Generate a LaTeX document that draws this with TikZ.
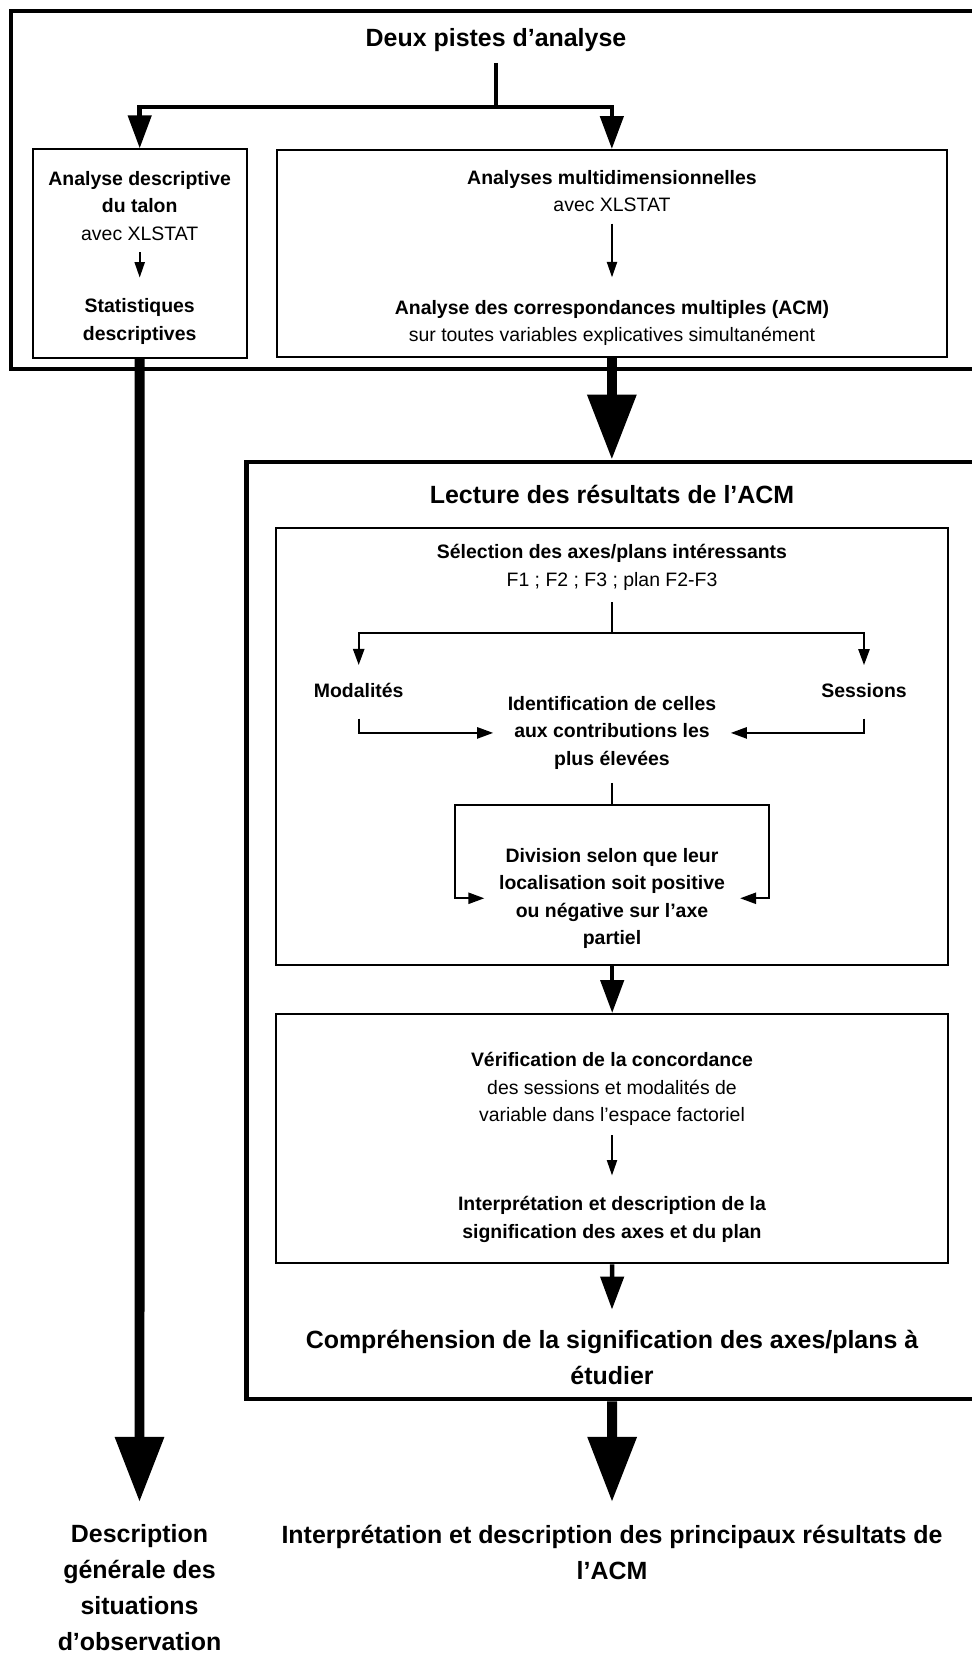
\documentclass[tikz,border=0pt]{standalone}
\usepackage{fontspec}
\setmainfont{Liberation Sans}
\usetikzlibrary{arrows.meta,fit}
\begin{document}
\begin{tikzpicture}[x=0.47325pt,y=-0.47325pt,
  frame/.style={draw, line width=2.2pt, inner sep=0pt, rectangle},
  ibox/.style={draw, line width=0.95pt, inner sep=0pt, rectangle},
  body/.style={font=\fontsize{9.2}{13}\selectfont, align=center, inner sep=0pt, anchor=base},
  bodyb/.style={font=\bfseries\fontsize{9.2}{13}\selectfont, align=center, inner sep=0pt, anchor=base},
  bigt/.style={font=\bfseries\fontsize{11.8}{16.9}\selectfont, align=center, inner sep=0pt, anchor=base},
  thickarr/.style={line width=4.7pt, -{Triangle[length=30.8pt,width=22.2pt]}},
  medarr/.style={line width=2.1pt, -{Triangle[length=15.6pt,width=10.9pt]}},
  medline/.style={line width=2.1pt},
  thinarr/.style={line width=0.8pt, -{Triangle[length=7.3pt,width=4.8pt]}},
  linline/.style={line width=0.95pt},
  linarr/.style={line width=0.95pt, -{Triangle[length=7.6pt,width=5.3pt]}}
]
\useasboundingbox (0,0) rectangle (972,1657);

% containers
\node[frame, fit={(11,11) (1000,369)}] (frame1) {};
\node[frame, fit={(246.6,462) (1000,1399)}] (frame2) {};
\node[ibox, fit={(32.7,149.3) (246.7,358)}] (lbox) {};
\node[ibox, fit={(277,150) (946.7,357)}] (rbox) {};
\node[ibox, fit={(276,528) (948.4,964.5)}] (ibox1) {};
\node[ibox, fit={(276,1014) (948.4,1263.3)}] (ibox2) {};

% texts (anchor = baseline of the last line)
\node[bigt] (title) at (496,46.7) {Deux pistes d’analyse};
\node[bodyb] (lA) at (139.7,240) {Analyse descriptive\\du talon\\{\mdseries avec XLSTAT}};
\node[bodyb] (lB) at (139.7,340) {Statistiques\\descriptives};
\node[bodyb] (rA) at (612,211.7) {Analyses multidimensionnelles\\{\mdseries avec XLSTAT}};
\node[bodyb] (rB) at (612,341.7) {Analyse des correspondances multiples (ACM)\\{\mdseries sur toutes variables explicatives simultanément}};
\node[bigt] (lect) at (612,503.7) {Lecture des résultats de l’ACM};
\node[bodyb] (sel) at (612,586.4) {Sélection des axes/plans intéressants\\{\mdseries F1 ; F2 ; F3 ; plan F2-F3}};
\node[bodyb] (mod) at (358.7,697.6) {Modalités};
\node[bodyb] (sess) at (864,697.6) {Sessions};
\node[bodyb] (ident) at (612,765.4) {Identification de celles\\aux contributions les\\plus élevées};
\node[bodyb] (div) at (612,944.5) {Division selon que leur\\localisation soit positive\\ou négative sur l’axe\\partiel};
\node[bodyb] (verif) at (612,1121.7) {Vérification de la concordance\\{\mdseries des sessions et modalités de}\\{\mdseries variable dans l’espace factoriel}};
\node[bodyb] (interp) at (612,1238.3) {Interprétation et description de la\\signification des axes et du plan};
\node[bigt] (compr) at (612,1384) {Compréhension de la signification des axes/plans à\\étudier};
\node[bigt, font=\bfseries\fontsize{11.8}{16.9}\selectfont] (desc) at (139.5,1650) {Description\\générale des\\situations\\d’observation};
\node[bigt, font=\bfseries\fontsize{11.8}{17}\selectfont] (acm) at (612,1579) {Interprétation et description des principaux résultats de\\l’ACM};

% connectors
\coordinate (split) at (496,107);
\draw[medline] ([yshift=-5pt]title.south) -- (split);
\draw[medarr] (split) -| (lbox.north);
\draw[medarr] (split) -| (rbox.north);
\draw[thinarr] ([yshift=-5.5pt]lA.south) -- ([yshift=9.7pt]lB.north);
\draw[thinarr] ([yshift=-5.3pt]rA.south) -- ([yshift=10.6pt]rB.north);
\draw[thickarr] (lbox.south) -- ([yshift=10.6pt]desc.north);
\draw[thickarr] (rbox.south) -- (rbox.south |- frame2.north);

\draw[linline] ([yshift=-5.4pt]sel.south) -- ++(0,31) coordinate (split2);
\draw[linarr] (split2) -| ([yshift=8.5pt]mod.north);
\draw[linarr] (split2) -| ([yshift=8.5pt]sess.north);
\draw[linarr] ([yshift=-9.7pt]mod.south) |- ([xshift=-6.7pt]ident.west);
\draw[linarr] ([yshift=-9.7pt]sess.south) |- ([xshift=6.7pt]ident.east);
\draw[linline] ([yshift=-6.2pt]ident.south) -- ++(0,22.4) coordinate (split3);
\draw[linarr] (split3) -- ++(-156.7,0) |- ([xshift=-6.8pt]div.west);
\draw[linarr] (split3) -- ++(156.6,0) |- ([xshift=7pt]div.east);

\draw[medarr] (ibox1.south) -- (ibox2.north);
\draw[thinarr] ([yshift=-4.4pt]verif.south) -- ([yshift=9.8pt]interp.north);
\draw[medarr] (ibox2.south) -- ([yshift=9.5pt]compr.north);
\draw[thickarr] (ibox2.south |- frame2.south) -- ([yshift=10.6pt]acm.north);
\end{tikzpicture}
\end{document}
